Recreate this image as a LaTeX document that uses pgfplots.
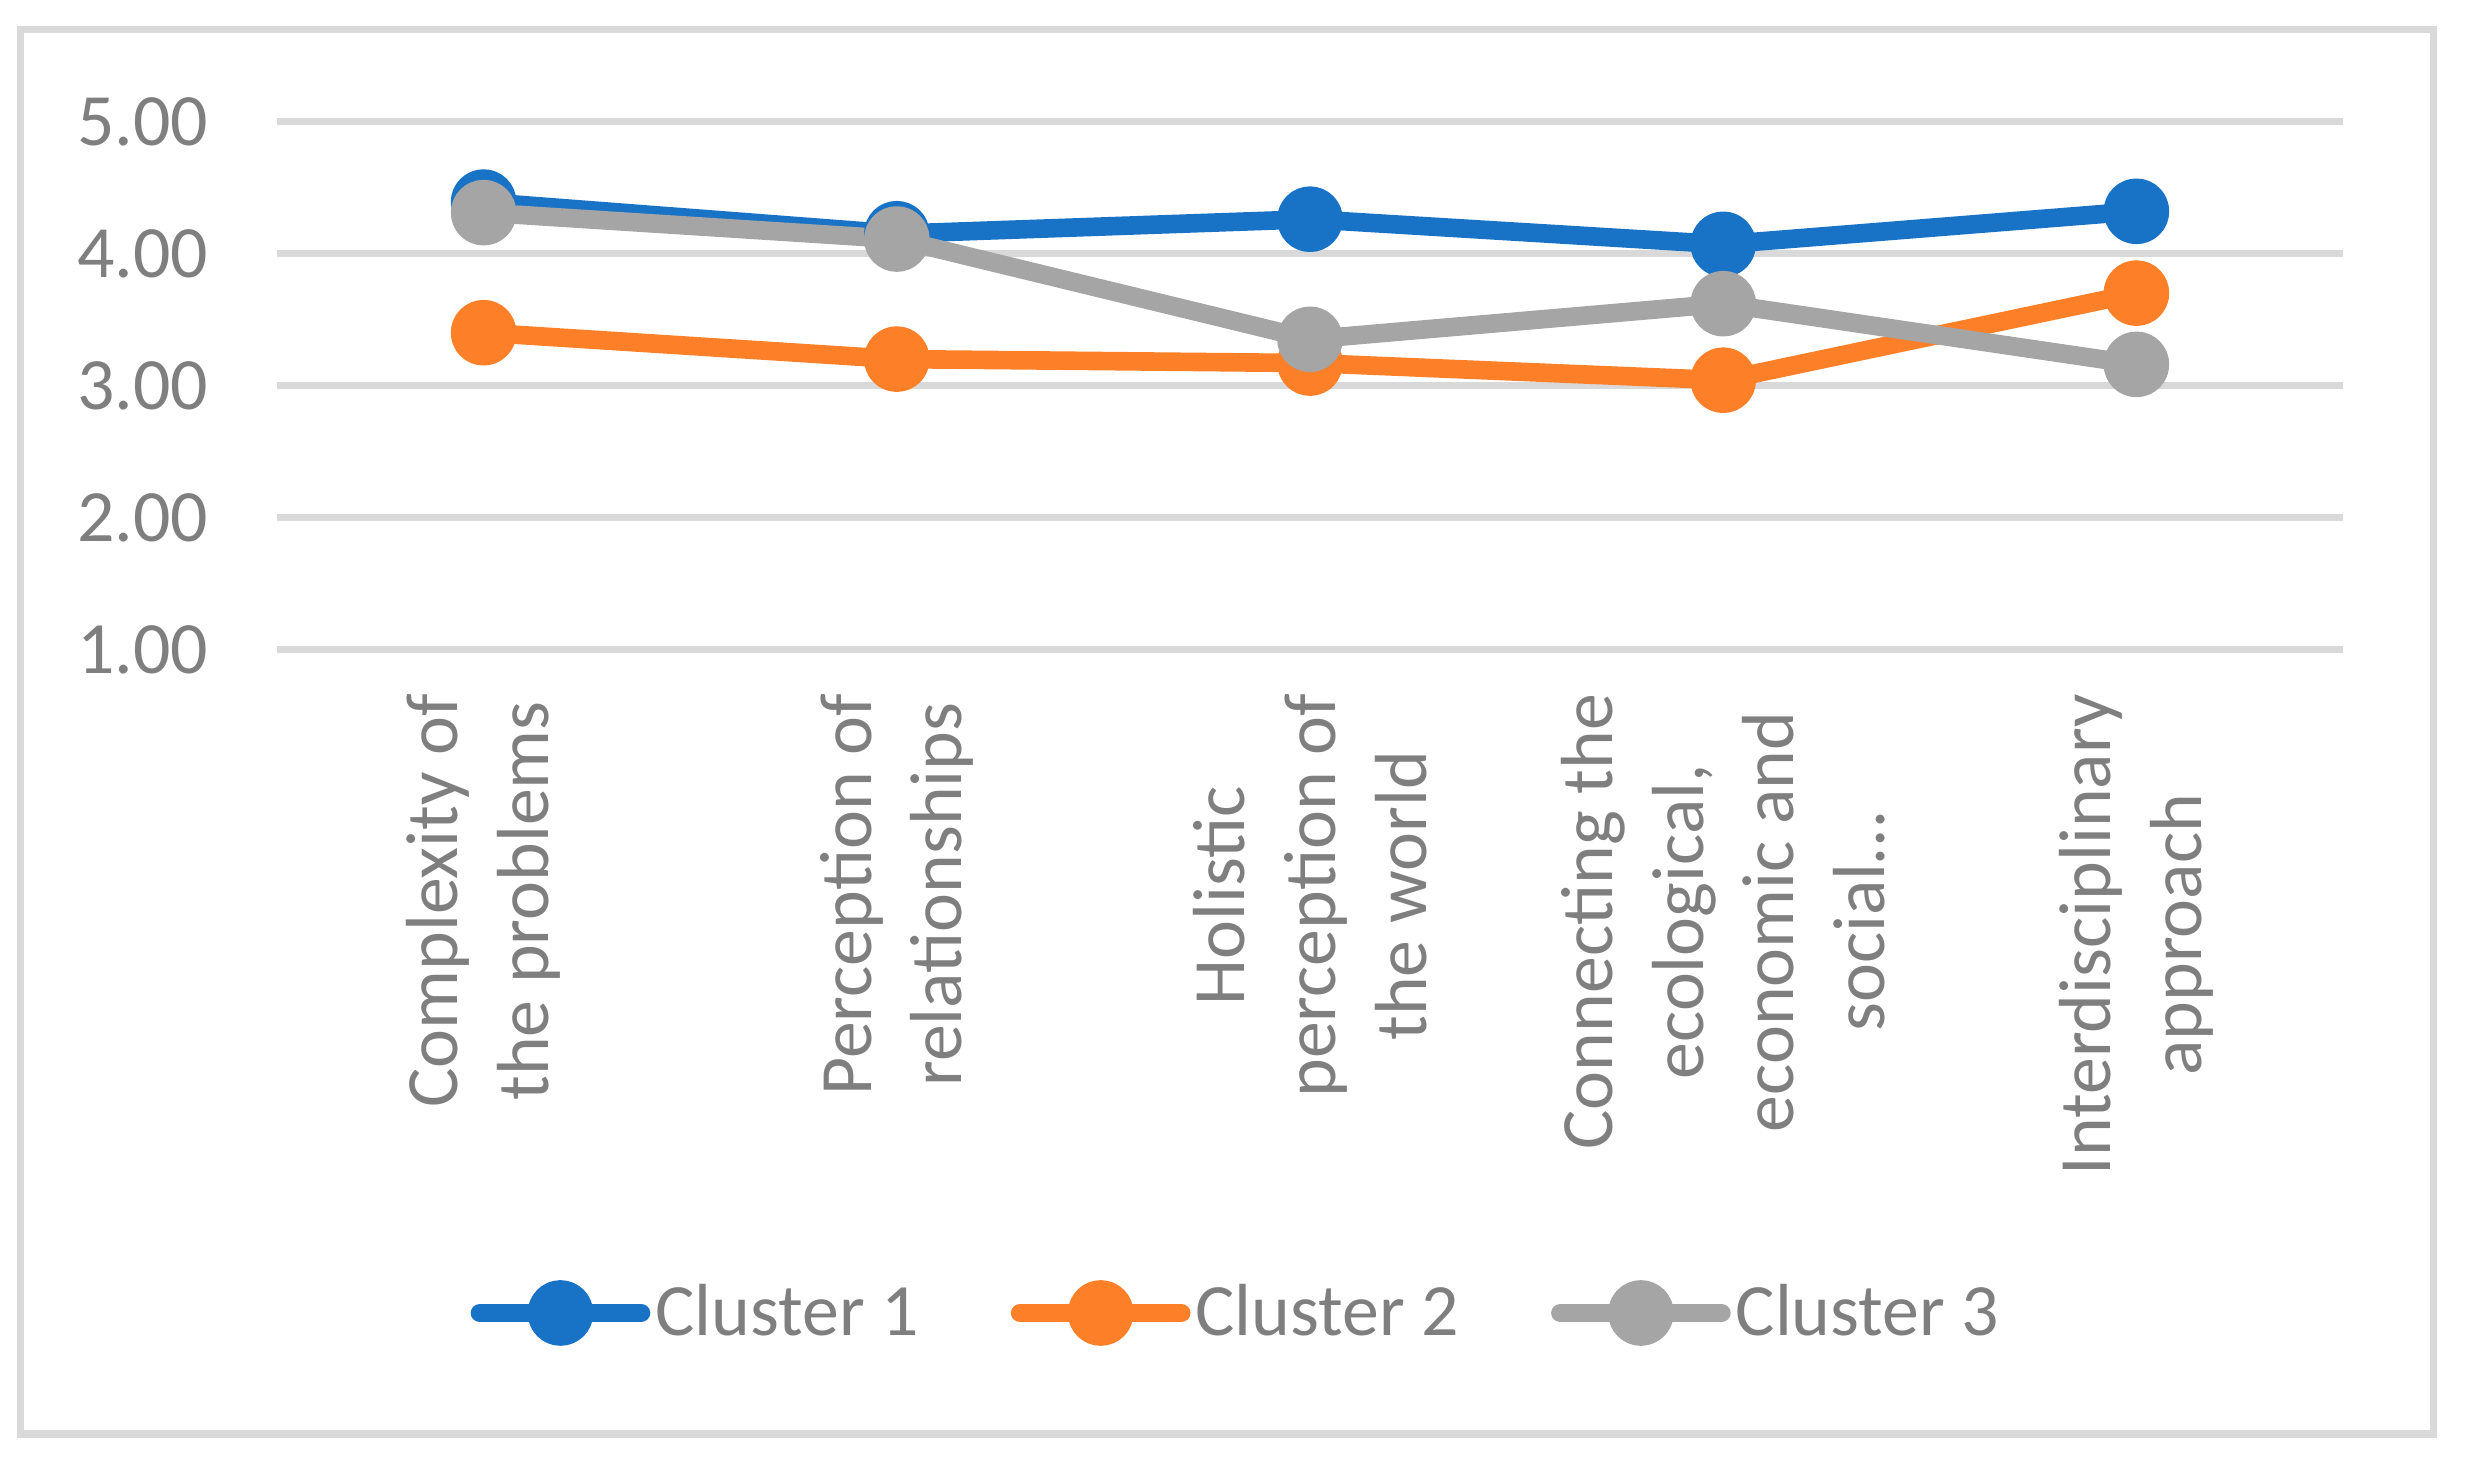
\documentclass[border=0pt]{standalone}
\usepackage{fontspec}
\setmainfont{Carlito}
\usepackage{pgfplots}
\pgfplotsset{compat=1.18}
\definecolor{cA}{HTML}{1873C7}
\definecolor{cB}{HTML}{FD7F27}
\definecolor{cC}{HTML}{A5A5A5}
\definecolor{tg}{HTML}{7F7F7F}
\definecolor{gl}{HTML}{D9D9D9}
\newcommand\fs{\fontsize{21}{25.8}\selectfont}
\begin{document}
\begin{tikzpicture}
\useasboundingbox (0,0) rectangle (24.66cm,14.59cm);
\draw[gl, line width=2pt] (0.205cm,0.25cm) rectangle (24.33cm,14.294cm);
\begin{axis}[
  at={(2.77cm,8.096cm)}, anchor=south west,
  scale only axis, width=20.66cm, height=5.278cm,
  xmin=-0.5, xmax=4.5, ymin=1, ymax=5,
  ytick={1,2,3,4,5},
  xtick={0,1,2,3,4},
  xticklabels={{Complexity of\\the problems},{Perception of\\relationships},{Holistic\\perception of\\the world},{Connecting the\\ecological,\\economic and\\social…},{Interdisciplinary\\approach}},
  axis line style={draw=none},
  major tick length=0pt,
  ymajorgrids, major grid style={gl, line width=1.84pt},
  yticklabel style={font=\fs, text=tg, anchor=east, inner xsep=6.8mm, inner ysep=0pt,
    /pgf/number format/.cd, fixed, fixed zerofill, precision=2, assume math mode=true},
  xticklabel style={font=\fs, text=tg, align=center, rotate=90, anchor=east, inner xsep=4.4mm, inner ysep=0pt},
  legend columns=3,
  legend style={at={(axis description cs:0.0934,-1.2573)}, anchor=west, draw=none, fill=none,
    inner sep=0pt, font=\fs, text=tg, nodes={inner sep=0pt},
    /tikz/every odd column/.append style={column sep=0.5mm},
    /tikz/every even column/.append style={column sep=9.2mm}},
  legend image code/.code={\draw[mark repeat=2,mark phase=2] plot coordinates {(0cm,0cm) (0.805cm,0cm) (1.61cm,0cm)};},
  every axis plot/.append style={line width=5.3pt, line cap=round, line join=round, mark=*, mark size=2.35mm},
]
\addplot[cA, mark options={draw=none, fill=cA}] coordinates {(0,4.39) (1,4.15) (2,4.26) (3,4.07) (4,4.32)};
\addlegendentry{Cluster 1}
\addplot[cB, mark options={draw=none, fill=cB}] coordinates {(0,3.40) (1,3.20) (2,3.17) (3,3.04) (4,3.70)};
\addlegendentry{Cluster 2}
\addplot[cC, mark options={draw=none, fill=cC}] coordinates {(0,4.31) (1,4.11) (2,3.35) (3,3.62) (4,3.16)};
\addlegendentry{Cluster 3}
\end{axis}
\end{tikzpicture}
\end{document}
